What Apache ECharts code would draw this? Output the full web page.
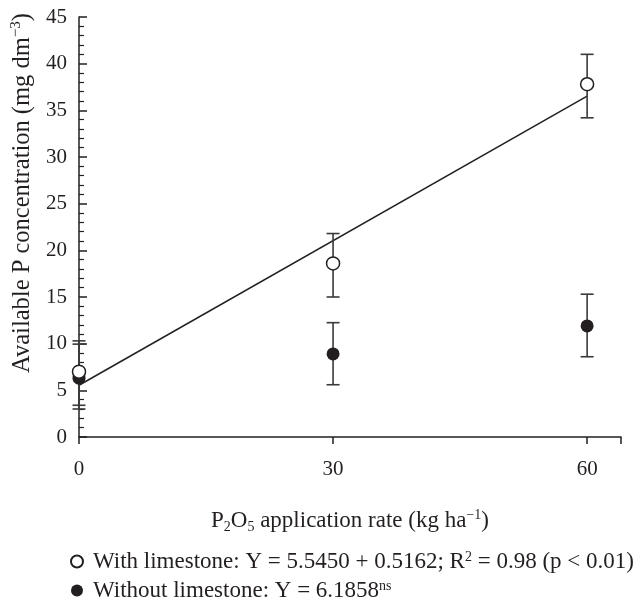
<!DOCTYPE html>
<html>
<head>
<meta charset="utf-8">
<script src="https://cdn.jsdelivr.net/npm/echarts@6/dist/echarts.min.js"></script>
<style>
html,body{margin:0;padding:0;background:#fff;}
#c{width:642px;height:605px;}
</style>
</head>
<body>
<div id="c"></div>
<script>
// ---- data ----
var rates = [0, 30, 60];
var withLime = [7.0, 18.6, 37.8];
var withLimeHigh = [10.3, 21.8, 41.0];
var withLimeLow = [3.4, 15.0, 34.2];
var withoutLime = [6.3, 8.9, 11.9];
var withoutLimeHigh = [9.95, 12.25, 15.3];
var withoutLimeLow = [3.0, 5.6, 8.6];
var fitX = [0, 60];
var fitY = [5.545, 36.517];
var xTicks = [0, 30, 60];
var yTicks = [0, 5, 10, 15, 20, 25, 30, 35, 40, 45];

var FONT = '"Liberation Serif", "Times New Roman", serif';
var INK = '#231f20';

function pairs(xs, ys) { return xs.map(function (x, i) { return [x, ys[i]]; }); }
function errData(xs, lo, hi) { return xs.map(function (x, i) { return [x, lo[i], hi[i]]; }); }

function errRender(params, api) {
  var x = api.value(0);
  var lo = api.coord([x, api.value(1)]);
  var hi = api.coord([x, api.value(2)]);
  var w = 6.5;
  var st = { stroke: '#3a3a3a', lineWidth: 1.6 };
  return {
    type: 'group',
    children: [
      { type: 'line', shape: { x1: lo[0], y1: lo[1], x2: hi[0], y2: hi[1] }, style: st },
      { type: 'line', shape: { x1: lo[0] - w, y1: lo[1], x2: lo[0] + w, y2: lo[1] }, style: st },
      { type: 'line', shape: { x1: hi[0] - w, y1: hi[1], x2: hi[0] + w, y2: hi[1] }, style: st }
    ]
  };
}

var chart = echarts.init(document.getElementById('c'), null, { renderer: 'canvas' });
var option = {
  animation: false,
  backgroundColor: '#fff',
  textStyle: { fontFamily: FONT },
  grid: { left: 79, right: 21, top: 17, bottom: 168, containLabel: false, outerBoundsMode: 'none' },
  graphic: [
    {
      type: 'text',
      x: 23, y: 193,
      rotation: Math.PI / 2,
      style: {
        text: '{a|Available P concentration (mg dm}{sup|−3}{a|)}',
        align: 'center',
        verticalAlign: 'middle',
        rich: {
          a: { fontFamily: FONT, fontSize: 24.5, fill: INK, color: INK, lineHeight: 28 },
          sup: { fontFamily: FONT, fontSize: 15, fill: INK, color: INK, lineHeight: 15, verticalAlign: 'top' }
        }
      }
    }
  ],
  xAxis: {
    type: 'value',
    min: 0, max: 64, interval: 30,
    name: '{a|P}{sub|2}{a|O}{sub|5}{a| application rate (kg ha}{sup|−1}{a|)}',
    nameLocation: 'middle',
    nameGap: 71,
    nameTextStyle: {
      rich: {
        a: { fontFamily: FONT, fontSize: 23, color: INK, lineHeight: 26 },
        sub: { fontFamily: FONT, fontSize: 14, color: INK, lineHeight: 14, verticalAlign: 'bottom' },
        sup: { fontFamily: FONT, fontSize: 14, color: INK, lineHeight: 14, verticalAlign: 'top' }
      }
    },
    axisLine: { lineStyle: { color: INK, width: 1.5 } },
    axisTick: { show: true, inside: false, length: 7, lineStyle: { color: INK, width: 1.5 } },
    axisLabel: {
      margin: 22, fontFamily: FONT, fontSize: 21, color: INK,
      customValues: xTicks
    },
    splitLine: { show: false }
  },
  yAxis: {
    type: 'value',
    min: 0, max: 45, interval: 5,
    axisLine: { show: true, lineStyle: { color: INK, width: 1.5 } },
    axisTick: { show: true, inside: true, length: 8, lineStyle: { color: INK, width: 1.5 } },
    minorTick: { show: true, splitNumber: 5, length: 5, lineStyle: { color: INK, width: 1.2 } },
    axisLabel: { margin: 12, fontFamily: FONT, fontSize: 21, color: INK, customValues: yTicks },
    splitLine: { show: false }
  },
  legend: {
    orient: 'vertical',
    left: 70,
    top: 550,
    padding: 0,
    itemGap: 6,
    itemWidth: 22,
    itemHeight: 12,
    selectedMode: false,
    data: ['With limestone', 'Without limestone'],
    formatter: function (name) {
      if (name === 'With limestone') return '{a|With limestone: Y = 5.5450 + 0.5162; R}{sup|2}{a| = 0.98 (p < 0.01)}';
      return '{a|Without limestone: Y = 6.1858}{sup|ns}';
    },
    textStyle: {
      padding: 0,
      rich: {
        a: { fontFamily: FONT, fontSize: 23, color: INK, lineHeight: 22 },
        sup: { fontFamily: FONT, fontSize: 14, color: INK, lineHeight: 14, verticalAlign: 'top' }
      }
    }
  },
  series: [
    {
      name: 'fit', type: 'line', data: pairs(fitX, fitY), showSymbol: false, symbol: 'none',
      lineStyle: { color: INK, width: 1.5 }, z: 2, silent: true
    },
    {
      name: 'errWith', type: 'custom', renderItem: errRender, data: errData(rates, withLimeLow, withLimeHigh),
      encode: { x: 0, y: [1, 2] }, z: 3, clip: false, silent: true
    },
    {
      name: 'errWithout', type: 'custom', renderItem: errRender, data: errData(rates, withoutLimeLow, withoutLimeHigh),
      encode: { x: 0, y: [1, 2] }, z: 3, clip: false, silent: true
    },
    {
      name: 'Without limestone', type: 'scatter', data: pairs(rates, withoutLime),
      symbol: 'circle', symbolSize: 13, itemStyle: { color: INK, opacity: 1 }, z: 4
    },
    {
      name: 'With limestone', type: 'scatter', data: pairs(rates, withLime),
      symbol: 'circle', symbolSize: 13, itemStyle: { color: '#fff', borderColor: INK, borderWidth: 1.5, opacity: 1 }, z: 5
    }
  ]
};
chart.setOption(option);
</script>
</body>
</html>
